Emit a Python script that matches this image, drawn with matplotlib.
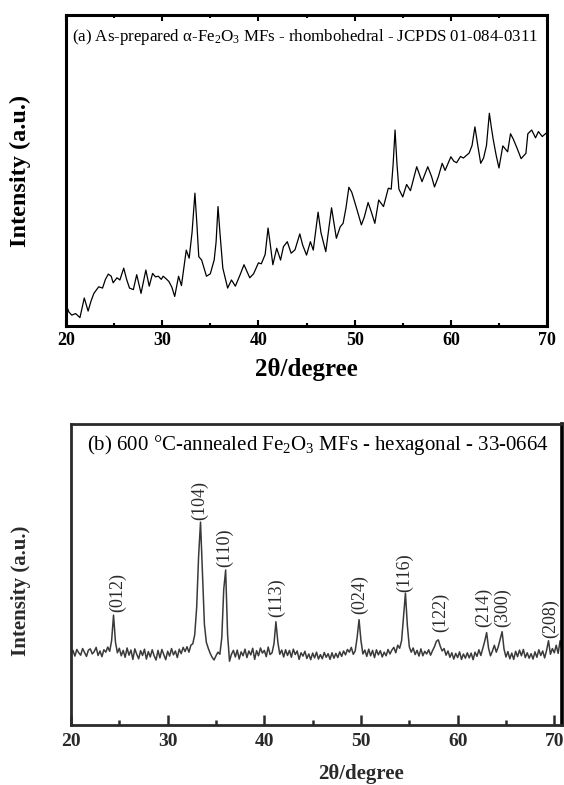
import numpy as np
import matplotlib
matplotlib.use("Agg")
import matplotlib.pyplot as plt

plt.rcParams["font.family"] = ["Liberation Serif", "DejaVu Serif"]
plt.rcParams["mathtext.fontset"] = "custom"
plt.rcParams["mathtext.rm"] = "Liberation Serif"
plt.rcParams["mathtext.it"] = "Liberation Serif:italic"
plt.rcParams["mathtext.bf"] = "Liberation Serif:bold"

# (a) as-prepared sample, 2theta vs intensity (arbitrary units)
two_theta_a = [20.0, 20.3, 20.6, 21.0, 21.45, 21.9, 22.3, 22.6, 22.9, 23.4, 23.8, 24.1, 24.4, 24.7,
               24.9, 25.3, 25.6, 26.0, 26.3, 26.6, 27.0, 27.35, 27.8, 28.3, 28.65, 29.0, 29.3, 29.6,
               29.9, 30.1, 30.4, 30.7, 31.0, 31.3, 31.7, 32.0, 32.5, 32.8, 33.1, 33.4, 33.6, 33.8,
               34.1, 34.6, 35.0, 35.4, 35.6, 35.8, 36.0, 36.3, 36.8, 37.2, 37.6, 38.1, 38.5, 39.1,
               39.5, 40.0, 40.3, 40.7, 41.0, 41.2, 41.5, 41.9, 42.3, 42.6, 43.0, 43.4, 43.8, 44.3,
               44.6, 45.0, 45.4, 45.7, 46.2, 46.5, 47.0, 47.6, 47.9, 48.1, 48.5, 48.8, 49.1, 49.4,
               49.7, 50.1, 50.7, 51.0, 51.4, 51.7, 52.1, 52.5, 53.0, 53.5, 53.8, 54.0, 54.2, 54.4,
               54.6, 55.0, 55.4, 55.8, 56.1, 56.45, 57.0, 57.6, 58.0, 58.3, 58.7, 59.1, 59.4, 60.0,
               60.3, 60.6, 61.0, 61.3, 61.9, 62.2, 62.5, 62.8, 63.1, 63.4, 63.7, 64.0, 64.2, 64.4,
               64.7, 65.0, 65.4, 65.9, 66.2, 66.5, 66.9, 67.3, 67.8, 68.0, 68.4, 68.8, 69.1, 69.5,
               69.9, 70.0]
intensity_a = [7.0, 4.5, 3.5, 4.0, 2.7, 9.0, 4.8, 8.0, 10.5, 12.6, 12.2, 15.0, 16.7, 16.0,
               13.9, 15.5, 14.8, 18.6, 15.0, 12.2, 11.7, 16.5, 10.5, 18.0, 12.8, 16.9, 15.8, 16.0,
               15.0, 16.0, 15.2, 14.3, 12.5, 9.5, 16.0, 13.0, 24.4, 21.8, 30.0, 42.7, 33.0, 22.3,
               21.2, 16.0, 16.8, 21.2, 27.0, 38.4, 30.0, 18.6, 12.2, 14.8, 12.8, 16.5, 19.7, 15.5,
               16.8, 20.3, 20.0, 23.0, 31.5, 27.0, 19.7, 25.0, 21.2, 25.5, 27.1, 23.4, 24.5, 29.6,
               26.0, 22.8, 27.1, 24.4, 36.6, 30.0, 23.9, 38.0, 32.0, 28.2, 31.9, 33.0, 38.0, 44.6,
               43.0, 38.9, 32.5, 35.0, 39.7, 37.0, 33.0, 40.5, 38.4, 44.3, 44.0, 52.0, 63.0, 52.0,
               44.0, 41.5, 45.5, 43.5, 47.0, 51.2, 46.4, 51.2, 48.0, 44.7, 48.0, 52.3, 50.0, 54.4,
               53.0, 52.5, 54.5, 54.0, 55.6, 58.0, 64.0, 58.0, 52.3, 54.0, 58.0, 68.4, 64.0, 60.0,
               55.0, 50.8, 57.9, 56.0, 61.8, 60.0, 57.0, 53.8, 55.5, 61.8, 63.0, 60.5, 62.5, 60.9,
               62.0, 61.5]

# (b) 600 C annealed sample, one row per degree (steps of 0.2 deg from 20.0 to 70.8)
intensity_b_rows = [
    [23.5, 24.8, 22.9, 25.1, 24.0], [23.2, 25.4, 24.1, 22.8, 24.9], [25.3, 23.6, 24.4, 25.8, 23.1],
    [24.6, 22.7, 25.0, 24.2, 25.9], [24.5, 28.0, 36.5, 27.5, 24.0], [25.5, 23.0, 24.8, 22.5, 25.6],
    [23.2, 24.9, 21.8, 25.3, 23.5], [22.0, 24.7, 23.1, 25.2, 21.9], [24.4, 22.6, 25.0, 23.0, 21.6],
    [24.8, 22.3, 25.1, 23.4, 21.7], [24.5, 22.9, 25.4, 23.3, 24.6], [22.4, 25.2, 23.7, 25.8, 24.4],
    [26.0, 24.2, 26.5, 27.0, 30.0], [39.0, 56.0, 67.4, 50.0, 33.5], [27.5, 25.5, 23.8, 22.5, 21.6],
    [23.0, 24.2, 23.5, 29.0, 45.0], [51.5, 30.0, 21.2, 23.5, 24.8], [22.6, 24.9, 21.9, 24.3, 23.0],
    [25.2, 22.4, 24.6, 23.3, 25.5], [21.8, 24.7, 23.0, 25.6, 23.9], [24.8, 22.7, 25.9, 23.4, 24.0],
    [27.0, 34.3, 27.5, 23.5, 24.9], [22.6, 25.0, 23.1, 24.8, 22.5], [25.2, 23.4, 24.6, 21.8, 24.0],
    [22.9, 24.5, 22.1, 23.6, 21.7], [23.9, 22.3, 24.2, 21.9, 23.4], [22.0, 24.1, 22.5, 23.7, 21.8],
    [24.0, 22.2, 23.8, 22.4, 24.3], [22.8, 24.6, 23.3, 25.1, 24.2], [25.8, 23.5, 24.6, 29.0, 35.0],
    [28.0, 23.6, 24.9, 22.8, 25.2], [23.0, 24.8, 22.4, 25.0, 23.3], [24.7, 22.6, 24.2, 23.0, 25.1],
    [23.6, 24.9, 25.8, 24.0, 26.5], [25.5, 28.0, 36.0, 43.8, 33.0], [26.0, 24.2, 25.6, 23.4, 24.8],
    [22.9, 25.3, 23.0, 24.5, 23.6], [25.0, 23.2, 24.7, 26.0, 27.8], [28.3, 26.2, 24.6, 25.4, 23.2],
    [24.6, 22.5, 24.0, 21.9, 23.8], [22.4, 24.3, 21.8, 23.6, 22.2], [24.0, 22.3, 23.9, 21.7, 24.2],
    [22.8, 25.0, 23.1, 25.4, 27.8], [30.7, 25.5, 23.0, 24.6, 26.5], [24.2, 26.0, 28.5, 31.0, 25.2],
    [22.6, 24.4, 22.0, 23.9, 21.8], [24.5, 22.7, 24.9, 23.0, 25.1], [22.4, 24.0, 22.2, 23.7, 21.9],
    [24.3, 22.5, 25.0, 23.1, 24.6], [22.3, 24.8, 28.0, 23.5, 25.4], [24.0, 26.5, 23.8, 28.0, 24.5],
]

hkl_labels = ["(012)", "(104)", "(110)", "(113)", "(024)", "(116)", "(122)", "(214)", "(300)", "(208)"]
hkl_pos = [24.8, 33.3, 35.9, 41.25, 49.9, 54.55, 58.2, 62.7, 64.6, 69.6]
hkl_height = [44.0, 74.7, 58.8, 42.2, 43.5, 50.5, 37.5, 39.2, 38.9, 35.5]

intensity_b = np.array(intensity_b_rows).ravel()
two_theta_b = 20.0 + 0.2 * np.arange(len(intensity_b))

fig = plt.figure(figsize=(5.64, 7.85), dpi=100)

# ---- panel (a)
ax1 = fig.add_axes([0.117, 0.5847, 0.853, 0.3963])
ax1.plot(two_theta_a, intensity_a, color="black", lw=0.9)
ax1.set_xlim(20, 70)
ax1.set_ylim(0, 100)
ax1.set_yticks([])
ax1.set_xticks([20, 30, 40, 50, 60, 70])
ax1.set_xticks([25, 35, 45, 55, 65], minor=True)
ax1.tick_params(axis="x", which="both", direction="in", top=True, width=1.5)
ax1.tick_params(axis="x", which="major", length=4, pad=4, labelsize=13)
ax1.tick_params(axis="x", which="minor", length=2)
for lab in ax1.get_xticklabels():
    lab.set_fontweight("bold")
for sp in ax1.spines.values():
    sp.set_linewidth(2.2)
ax1.set_xlabel("2θ/degree", fontsize=18, fontweight="bold")
ax1.xaxis.set_label_coords(0.5, -0.103)
ax1.set_ylabel("Intensity (a.u.)", fontsize=17.5, fontweight="bold")
ax1.yaxis.set_label_coords(-0.073, 0.5)
ax1.text(0.012, 0.93, r"(a) As-prepared α-Fe$_2$O$_3$ MFs - rhombohedral - JCPDS 01-084-0311",
         transform=ax1.transAxes, fontsize=12.2, va="center", ha="left")

# ---- panel (b)
grey = "#2a2a2a"
ax2 = fig.add_axes([0.1259, 0.0764, 0.8706, 0.3835])
ax2.plot(two_theta_b, intensity_b, color="#3a3a3a", lw=1.1)
ax2.set_xlim(20, 70.8)
ax2.set_ylim(0, 100)
ax2.set_yticks([])
ax2.set_xticks([20, 30, 40, 50, 60, 70])
ax2.set_xticks([25, 35, 45, 55, 65], minor=True)
ax2.tick_params(axis="x", which="both", direction="in", width=1.8, colors=grey)
ax2.tick_params(axis="x", which="major", length=7, pad=6, labelsize=14)
ax2.tick_params(axis="x", which="minor", length=3.5)
for lab in ax2.get_xticklabels():
    lab.set_fontweight("bold")
for name, sp in ax2.spines.items():
    sp.set_linewidth(2.0)
    sp.set_color(grey)
ax2.spines["right"].set_linewidth(2.6)
ax2.spines["right"].set_color("black")
ax2.set_xlabel("2θ/degree", fontsize=15, fontweight="bold", color=grey)
ax2.xaxis.set_label_coords(0.59, -0.128)
ax2.set_ylabel("Intensity (a.u.)", fontsize=15, fontweight="bold", color=grey)
ax2.yaxis.set_label_coords(-0.081, 0.445)
ax2.text(0.503, 0.93, r"(b) 600 °C-annealed Fe$_2$O$_3$ MFs - hexagonal - 33-0664",
         transform=ax2.transAxes, fontsize=15, va="center", ha="center")
for lab, xp, yp in zip(hkl_labels, hkl_pos, hkl_height):
    ax2.text(xp, yp, lab, rotation=90, ha="center", va="center", fontsize=13,
             color=grey, clip_on=True)

fig.savefig("out.png", dpi=100)
